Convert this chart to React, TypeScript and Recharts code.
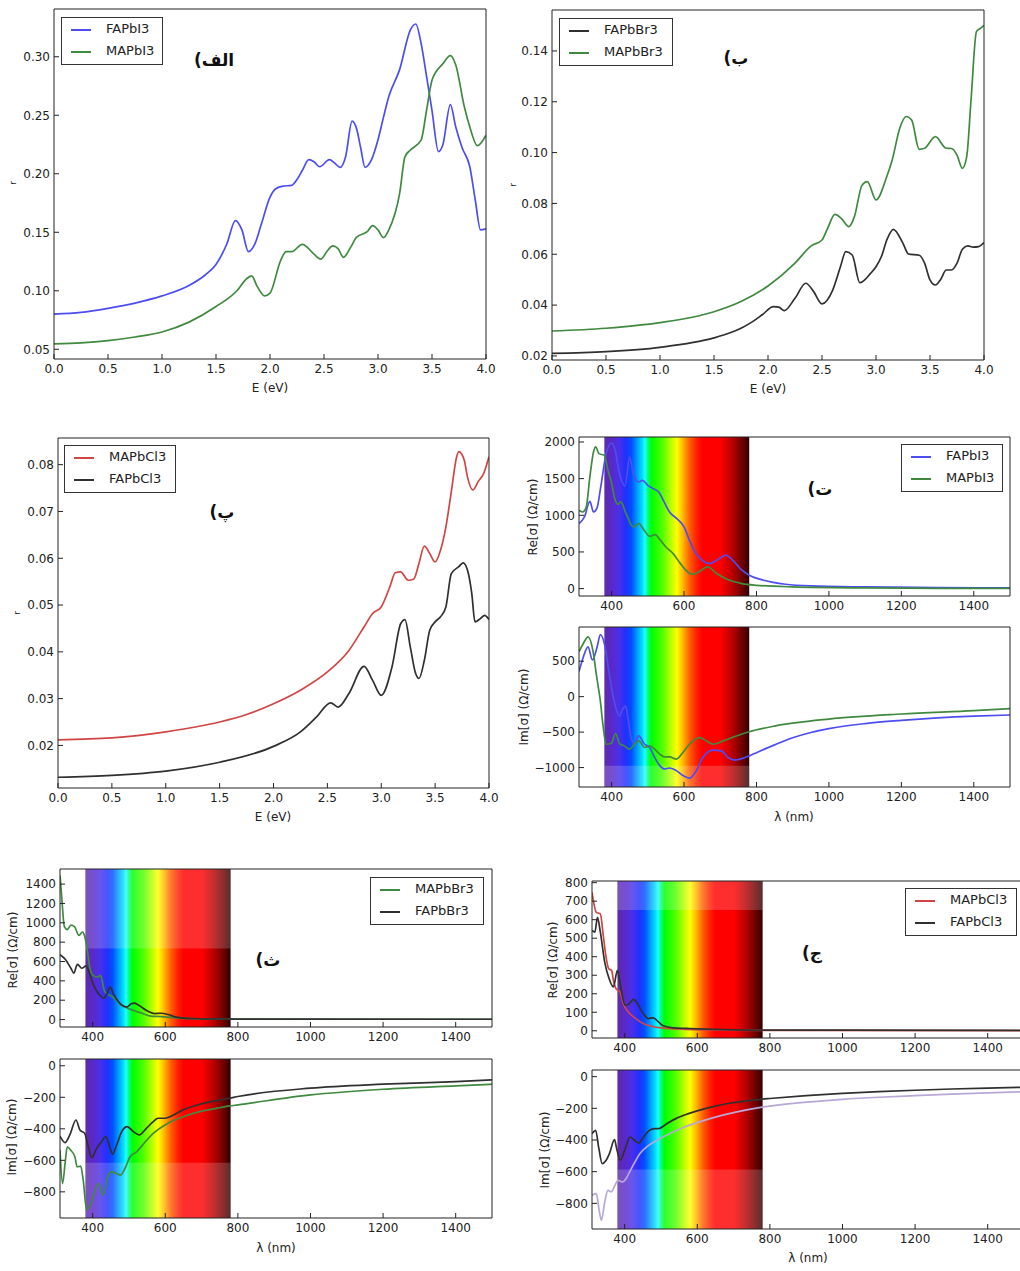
import React from 'react';
import { LineChart, Line, XAxis, YAxis, ReferenceArea } from 'recharts';

const BLUE = '#4d4df2';
const GREEN = '#3f8a3f';
const RED = '#d24545';
const BLACK = '#303030';
const LAVENDER = '#b9a7d8';
const INK = '#222';
const FONT = '"DejaVu Sans", sans-serif';

// ---- panel الف : reflectivity, iodides
const p1FaE = [0, 0.25, 0.5, 0.75, 1.0, 1.25, 1.4, 1.5, 1.6, 1.68, 1.74, 1.8, 1.86, 1.92, 2.0, 2.05, 2.12, 2.2, 2.25, 2.3, 2.36, 2.41, 2.46, 2.55, 2.6, 2.65, 2.7, 2.76, 2.8, 2.84, 2.88, 2.94, 3.0, 3.05, 3.1, 3.2, 3.3, 3.35, 3.4, 3.45, 3.5, 3.56, 3.6, 3.67, 3.72, 3.78, 3.85, 3.9, 3.95, 4.0];
const p1FaR = [0.08, 0.0815, 0.085, 0.0895, 0.0956, 0.1045, 0.1135, 0.1225, 0.14, 0.16, 0.152, 0.1334, 0.14, 0.157, 0.18, 0.187, 0.1895, 0.19, 0.195, 0.203, 0.212, 0.21, 0.206, 0.212, 0.209, 0.2055, 0.2146, 0.245, 0.239, 0.222, 0.2055, 0.212, 0.229, 0.248, 0.266, 0.289, 0.323, 0.328, 0.311, 0.283, 0.254, 0.219, 0.2246, 0.259, 0.24, 0.222, 0.206, 0.178, 0.152, 0.153];
const p1MaE = [0, 0.25, 0.5, 0.75, 1.0, 1.25, 1.5, 1.7, 1.78, 1.83, 1.88, 1.95, 2.0, 2.1, 2.15, 2.2, 2.3, 2.4, 2.47, 2.53, 2.58, 2.63, 2.68, 2.75, 2.8, 2.9, 2.95, 3.0, 3.05, 3.1, 3.2, 3.25, 3.3, 3.4, 3.45, 3.5, 3.6, 3.67, 3.72, 3.8, 3.85, 3.92, 4.0];
const p1MaR = [0.0546, 0.0555, 0.0574, 0.0605, 0.0648, 0.0732, 0.0865, 0.1007, 0.11, 0.1127, 0.104, 0.0956, 0.098, 0.1263, 0.1334, 0.1334, 0.1397, 0.132, 0.127, 0.134, 0.1383, 0.136, 0.1286, 0.1377, 0.1457, 0.1505, 0.1557, 0.152, 0.1454, 0.152, 0.183, 0.2146, 0.2203, 0.229, 0.2545, 0.28, 0.294, 0.301, 0.293, 0.257, 0.24, 0.224, 0.233];

// ---- panel ب : bromides
const p2FaE = [0, 0.5, 1.0, 1.5, 1.65, 1.75, 1.85, 1.95, 2.05, 2.1, 2.15, 2.25, 2.35, 2.42, 2.5, 2.6, 2.67, 2.72, 2.78, 2.85, 2.95, 3.0, 3.05, 3.1, 3.16, 3.25, 3.3, 3.4, 3.45, 3.5, 3.55, 3.6, 3.65, 3.7, 3.75, 3.8, 3.85, 3.9, 3.95, 4.0];
const p2FaR = [0.021, 0.0217, 0.0234, 0.0271, 0.0291, 0.0309, 0.0333, 0.0363, 0.0394, 0.0392, 0.0378, 0.0427, 0.0486, 0.0455, 0.0405, 0.046, 0.055, 0.061, 0.0597, 0.0488, 0.0525, 0.0551, 0.0591, 0.0656, 0.0698, 0.0643, 0.0601, 0.0596, 0.0565, 0.0499, 0.0479, 0.0502, 0.0538, 0.0538, 0.0565, 0.062, 0.0633, 0.0628, 0.063, 0.0646];
const p2MaE = [0, 0.5, 1.0, 1.5, 1.75, 2.0, 2.25, 2.4, 2.5, 2.55, 2.62, 2.68, 2.75, 2.8, 2.87, 2.92, 3.0, 3.1, 3.15, 3.22, 3.28, 3.33, 3.4, 3.45, 3.55, 3.65, 3.7, 3.75, 3.8, 3.84, 3.88, 3.93, 3.97, 4.0];
const p2MaR = [0.0298, 0.0309, 0.0331, 0.0374, 0.0414, 0.0475, 0.0565, 0.0633, 0.0656, 0.07, 0.0757, 0.074, 0.0709, 0.0748, 0.0871, 0.0886, 0.0814, 0.0906, 0.0971, 0.1096, 0.1142, 0.1128, 0.1013, 0.1017, 0.1063, 0.1017, 0.1016, 0.099, 0.0938, 0.0984, 0.1207, 0.1476, 0.149, 0.15];

// ---- panel پ : chlorides
const p3MaE = [0, 0.5, 1.0, 1.5, 1.75, 2.0, 2.25, 2.5, 2.7, 2.85, 2.92, 3.0, 3.08, 3.13, 3.18, 3.25, 3.3, 3.35, 3.4, 3.45, 3.5, 3.55, 3.6, 3.65, 3.7, 3.72, 3.77, 3.8, 3.85, 3.9, 3.95, 4.0];
const p3MaR = [0.0212, 0.0216, 0.0229, 0.025, 0.0266, 0.0289, 0.0318, 0.0357, 0.0403, 0.0457, 0.0482, 0.0496, 0.0539, 0.0569, 0.0571, 0.0553, 0.0555, 0.0589, 0.0626, 0.061, 0.0592, 0.0617, 0.0667, 0.0742, 0.0817, 0.0828, 0.081, 0.0774, 0.0746, 0.0764, 0.0781, 0.0817];
const p3FaE = [0, 0.5, 1.0, 1.5, 2.0, 2.25, 2.4, 2.53, 2.6, 2.7, 2.84, 2.92, 3.0, 3.1, 3.18, 3.22, 3.27, 3.32, 3.35, 3.4, 3.45, 3.5, 3.55, 3.6, 3.65, 3.72, 3.76, 3.8, 3.84, 3.87, 3.92, 3.96, 4.0];
const p3FaR = [0.0132, 0.0136, 0.0145, 0.0164, 0.0198, 0.0229, 0.0261, 0.0291, 0.0282, 0.0311, 0.0369, 0.0339, 0.0307, 0.0368, 0.046, 0.0469, 0.041, 0.0353, 0.0343, 0.0382, 0.0446, 0.0464, 0.0475, 0.0496, 0.0567, 0.0582, 0.059, 0.0575, 0.0525, 0.0464, 0.0471, 0.0478, 0.0469];

// ---- panel ت : conductivity, iodides
const p4ReFaL = [310, 325, 340, 350, 360, 370, 385, 400, 410, 420, 437, 450, 460, 475, 485, 500, 515, 530, 545, 560, 580, 600, 615, 630, 650, 670, 690, 715, 735, 755, 780, 820, 880, 950, 1100, 1300, 1500];
const p4ReFaV = [886, 977, 1190, 1045, 1105, 1386, 1841, 1986, 1886, 1614, 1400, 1795, 1568, 1455, 1477, 1409, 1364, 1318, 1182, 1045, 955, 841, 659, 500, 386, 341, 386, 455, 386, 273, 182, 114, 59, 36, 23, 14, 9];
const p4ReMaL = [310, 320, 330, 340, 350, 356, 365, 380, 390, 400, 410, 418, 425, 440, 460, 475, 490, 505, 520, 535, 550, 570, 590, 610, 625, 640, 665, 690, 720, 760, 800, 900, 1100, 1300, 1500];
const p4ReMaV = [1068, 1045, 1114, 1523, 1864, 1932, 1841, 1818, 1614, 1440, 1205, 1150, 1182, 1023, 841, 886, 795, 714, 736, 659, 568, 477, 341, 227, 195, 227, 295, 205, 123, 68, 45, 23, 9, 4, 2];
const p4ImFaL = [310, 322, 335, 347, 360, 369, 381, 394, 408, 422, 430, 439, 445, 454, 463, 475, 491, 505, 519, 533, 546, 560, 579, 597, 615, 634, 652, 680, 703, 721, 739, 762, 780, 800, 850, 900, 950, 1000, 1100, 1200, 1300, 1400, 1500];
const p4ImFaV = [354, 560, 703, 517, 700, 876, 727, 307, -88, -275, -182, -135, -298, -578, -671, -554, -671, -717, -857, -973, -1020, -1006, -1043, -1113, -1150, -1043, -857, -754, -764, -857, -894, -870, -835, -790, -680, -580, -505, -450, -380, -335, -300, -275, -259];
const p4ImMaL = [310, 322, 335, 349, 358, 369, 376, 385, 399, 411, 422, 435, 449, 463, 476, 491, 505, 519, 533, 546, 560, 579, 597, 615, 643, 662, 680, 708, 744, 780, 850, 1000, 1200, 1400, 1500];
const p4ImMaV = [633, 750, 843, 633, 307, -65, -391, -671, -661, -522, -661, -694, -741, -671, -624, -717, -694, -741, -810, -848, -848, -880, -787, -671, -578, -624, -671, -624, -554, -495, -415, -316, -245, -198, -170];

// ---- panel ث : conductivity, bromides
const p5ReMaL = [310, 315, 322, 330, 340, 350, 362, 372, 378, 385, 392, 400, 412, 422, 432, 442, 452, 465, 478, 492, 505, 520, 540, 560, 590, 620, 670, 800, 1000, 1500];
const p5ReMaV = [1490, 1250, 960, 930, 975, 960, 870, 905, 860, 720, 540, 460, 440, 455, 300, 260, 240, 200, 150, 125, 105, 85, 60, 35, 30, 20, 10, 5, 3, 3];
const p5ReFaL = [310, 325, 340, 348, 358, 370, 382, 392, 400, 410, 420, 430, 440, 448, 458, 470, 485, 495, 505, 515, 530, 550, 570, 590, 605, 630, 660, 700, 800, 1000, 1500];
const p5ReFaV = [670, 620, 530, 480, 570, 530, 555, 470, 380, 300, 250, 220, 270, 335, 260, 190, 140, 130, 160, 170, 140, 90, 62, 65, 55, 25, 12, 8, 5, 4, 3];
const p5ImFaL = [310, 324, 337, 354, 365, 378, 388, 397, 411, 424, 436, 447, 455, 466, 480, 495, 512, 528, 548, 567, 580, 599, 613, 649, 695, 741, 777, 800, 1000, 1200, 1400, 1500];
const p5ImFaV = [-446, -488, -439, -344, -408, -429, -514, -582, -524, -482, -450, -514, -561, -503, -418, -386, -418, -439, -397, -355, -333, -333, -323, -280, -244, -221, -206, -195, -142, -117, -100, -89];
const p5ImMaL = [310, 317, 324, 330, 339, 351, 357, 367, 374, 383, 397, 406, 417, 429, 443, 452, 466, 477, 489, 503, 521, 545, 567, 604, 649, 695, 741, 777, 800, 1000, 1200, 1400, 1500];
const p5ImMaV = [-535, -747, -620, -514, -535, -577, -641, -637, -726, -912, -864, -790, -747, -822, -694, -673, -684, -694, -652, -577, -546, -482, -429, -369, -323, -291, -270, -255, -248, -185, -149, -127, -117];

// ---- panel ج : conductivity, chlorides
const p6ReMaL = [310, 322, 333, 341, 348, 356, 364, 369, 376, 387, 396, 410, 428, 451, 479, 516, 571, 650, 800, 1500];
const p6ReMaV = [748, 640, 631, 515, 407, 335, 326, 273, 228, 210, 147, 102, 70, 39, 22, 13, 8, 4, 2, 1];
const p6ReFaL = [310, 318, 325, 333, 345, 357, 369, 380, 389, 401, 413, 424, 435, 451, 465, 479, 493, 506, 534, 571, 644, 781, 1000, 1500];
const p6ReFaV = [542, 533, 613, 533, 371, 282, 237, 326, 237, 138, 147, 170, 147, 93, 66, 70, 48, 27, 16, 13, 8, 4, 3, 2];
const p6ImFaL = [310, 320, 329, 338, 349, 358, 372, 378, 388, 400, 415, 427, 439, 452, 468, 482, 494, 514, 541, 578, 624, 688, 775, 800, 900, 1000, 1100, 1200, 1300, 1400, 1500];
const p6ImFaV = [-360, -339, -455, -549, -528, -486, -398, -455, -528, -465, -381, -402, -419, -381, -339, -328, -328, -300, -265, -232, -200, -168, -143, -138, -120, -106, -95, -86, -78, -72, -67];
const p6ImMaL = [310, 322, 329, 336, 345, 354, 363, 371, 382, 394, 405, 414, 428, 442, 460, 483, 515, 550, 596, 642, 706, 775, 800, 900, 1000, 1100, 1200, 1300, 1400, 1500];
const p6ImMaV = [-749, -739, -834, -907, -792, -718, -728, -697, -655, -665, -640, -600, -540, -485, -445, -410, -370, -332, -292, -260, -224, -194, -186, -161, -143, -130, -120, -110, -102, -95];

// ticks
const eTicks = [0, 0.5, 1.0, 1.5, 2.0, 2.5, 3.0, 3.5, 4.0];
const lamTicks = [400, 600, 800, 1000, 1200, 1400];

// visible band colours, 380 -> 780 nm
const SPECTRUM: [number, string][] = [
  [0, '#5c2ca8'], [0.05, '#5a28c8'], [0.1, '#4a30e8'], [0.15, '#2030ff'], [0.1875, '#0050ff'],
  [0.225, '#0098ff'], [0.2625, '#00e0ff'], [0.28, '#20ffff'], [0.3, '#00ff80'], [0.325, '#00ff00'],
  [0.4, '#50ff00'], [0.45, '#a8ff00'], [0.5, '#ffff00'], [0.5375, '#ffc000'], [0.5875, '#ff6000'],
  [0.6375, '#ff2000'], [0.675, '#ff0000'], [0.8, '#ff0000'], [0.875, '#c00000'], [0.95, '#700000'], [1, '#300000'],
];

const zip = (xs: number[], ys: number[]) => xs.map((x, i) => ({ x, y: ys[i] }));
const f1 = (v: number) => v.toFixed(1);
const f2 = (v: number) => v.toFixed(2);
const fi = (v: number) => (v < 0 ? '\u2212' + Math.abs(v) : String(v));

const YW = 60, RW = 22, TH = 6, XH = 26;

type S = { xs: number[]; ys: number[]; color: string };
type PanelProps = {
  id: string;
  box: [number, number, number, number];
  xDomain: [number, number];
  xTicks: number[];
  xFmt: (v: number) => string;
  yDomain: [number, number];
  yTicks: number[];
  yFmt: (v: number) => string;
  series: S[];
  band?: boolean;
  veil?: [number, number];
};

function Panel({ id, box, xDomain, xTicks, xFmt, yDomain, yTicks, yFmt, series, band, veil }: PanelProps) {
  const [l, t, w, h] = box;
  const tickStyle = { fontSize: 12, fill: INK, fontFamily: FONT };
  const line = { stroke: INK, strokeWidth: 1 };
  return (
    <div style={{ position: 'absolute', left: l - YW, top: t - TH }}>
      <LineChart width={w + YW + RW} height={h + TH + XH} margin={{ top: 0, right: 0, bottom: 0, left: 0 }}>
        <defs>
          <linearGradient id={'spec' + id} x1="0" y1="0" x2="1" y2="0">
            {SPECTRUM.map(([o, c]) => (
              <stop key={o} offset={o} stopColor={c} />
            ))}
          </linearGradient>
        </defs>
        <XAxis xAxisId={0} dataKey="x" type="number" domain={xDomain} ticks={xTicks} interval={0}
          allowDataOverflow tickFormatter={xFmt} tickSize={-5} tickMargin={10} height={XH}
          tick={tickStyle} axisLine={line} tickLine={line} />
        <XAxis xAxisId="top" orientation="top" dataKey="x" type="number" domain={xDomain} ticks={xTicks}
          interval={0} allowDataOverflow tick={false} tickSize={-5} height={TH} axisLine={line} tickLine={line} />
        <YAxis yAxisId={0} type="number" domain={yDomain} ticks={yTicks} interval={0} allowDataOverflow
          tickFormatter={yFmt} tickSize={-5} tickMargin={9} width={YW} tick={tickStyle} axisLine={line} tickLine={line} />
        <YAxis yAxisId="right" orientation="right" type="number" domain={yDomain} ticks={yTicks} interval={0}
          allowDataOverflow tick={false} tickSize={-5} width={RW} axisLine={line} tickLine={line} />
        {band && (
          <ReferenceArea xAxisId={0} yAxisId={0} x1={380} x2={780} y1={yDomain[0]} y2={yDomain[1]}
            fill={`url(#spec${id})`} fillOpacity={1} stroke="none" />
        )}
        {band && veil && (
          <ReferenceArea xAxisId={0} yAxisId={0} x1={380} x2={780} y1={veil[0]} y2={veil[1]}
            fill="#ffffff" fillOpacity={0.18} stroke="none" />
        )}
        {series.map((s, i) => (
          <Line key={i} xAxisId={0} yAxisId={0} data={zip(s.xs, s.ys)} dataKey="y" type="monotone"
            stroke={s.color} strokeWidth={1.7} dot={false} activeDot={false} isAnimationActive={false} />
        ))}
      </LineChart>
    </div>
  );
}

function Legend2({ x, y, w, items }: { x: number; y: number; w: number; items: [string, string][] }) {
  return (
    <div style={{ position: 'absolute', left: x, top: y, width: w, height: 48, border: '1px solid #333', boxSizing: 'border-box', background: '#fff' }}>
      {items.map(([name, color], i) => (
        <React.Fragment key={name}>
          <div style={{ position: 'absolute', left: 9, top: 11 + 22 * i, width: 20, height: 2, background: color }} />
          <div style={{ position: 'absolute', left: 44, top: 3 + 22 * i, lineHeight: '16px', fontSize: 13, color: INK, fontFamily: FONT }}>{name}</div>
        </React.Fragment>
      ))}
    </div>
  );
}

function Txt({ x, y, text, size = 12, rot = false, bold = false, rtl = false }: { x: number; y: number; text: string; size?: number; rot?: boolean; bold?: boolean; rtl?: boolean }) {
  return (
    <div dir={rtl ? 'rtl' : 'ltr'} style={{
      position: 'absolute', left: x, top: y, transform: `translate(-50%, -50%)${rot ? ' rotate(-90deg)' : ''}`,
      fontSize: size, fontWeight: bold ? 700 : 400, color: bold ? '#111' : INK, fontFamily: FONT, whiteSpace: 'nowrap', lineHeight: 1,
    }}>{text}</div>
  );
}

const LAM: [number, number] = [310, 1500];
const EDOM: [number, number] = [0, 4];

export default function App() {
  return (
    <div style={{ position: 'relative', width: 1020, height: 1271, overflow: 'hidden', background: '#fff', fontFamily: FONT }}>
      <style>{'body{margin:0}'}</style>

      <Panel id="a" box={[54, 9, 432, 350]} xDomain={EDOM} xTicks={eTicks} xFmt={f1}
        yDomain={[0.0417, 0.3408]} yTicks={[0.05, 0.1, 0.15, 0.2, 0.25, 0.3]} yFmt={f2}
        series={[{ xs: p1FaE, ys: p1FaR, color: BLUE }, { xs: p1MaE, ys: p1MaR, color: GREEN }]} />
      <Panel id="b" box={[552, 10, 432, 350]} xDomain={EDOM} xTicks={eTicks} xFmt={f1}
        yDomain={[0.0184, 0.1561]} yTicks={[0.02, 0.04, 0.06, 0.08, 0.1, 0.12, 0.14]} yFmt={f2}
        series={[{ xs: p2FaE, ys: p2FaR, color: BLACK }, { xs: p2MaE, ys: p2MaR, color: GREEN }]} />
      <Panel id="c" box={[58, 438, 431, 350]} xDomain={EDOM} xTicks={eTicks} xFmt={f1}
        yDomain={[0.0109, 0.0857]} yTicks={[0.02, 0.03, 0.04, 0.05, 0.06, 0.07, 0.08]} yFmt={f2}
        series={[{ xs: p3MaE, ys: p3MaR, color: RED }, { xs: p3FaE, ys: p3FaR, color: BLACK }]} />

      <Panel id="d1" box={[579, 437, 431, 159]} xDomain={LAM} xTicks={lamTicks} xFmt={fi}
        yDomain={[-101, 2068]} yTicks={[0, 500, 1000, 1500, 2000]} yFmt={fi} band
        series={[{ xs: p4ReFaL, ys: p4ReFaV, color: BLUE }, { xs: p4ReMaL, ys: p4ReMaV, color: GREEN }]} />
      <Panel id="d2" box={[579, 627, 431, 160]} xDomain={LAM} xTicks={lamTicks} xFmt={fi}
        yDomain={[-1274, 982]} yTicks={[-1000, -500, 0, 500]} yFmt={fi} band veil={[-1274, -975]}
        series={[{ xs: p4ImFaL, ys: p4ImFaV, color: BLUE }, { xs: p4ImMaL, ys: p4ImMaV, color: GREEN }]} />

      <Panel id="e1" box={[60, 869, 432, 158]} xDomain={LAM} xTicks={lamTicks} xFmt={fi}
        yDomain={[-77, 1556]} yTicks={[0, 200, 400, 600, 800, 1000, 1200, 1400]} yFmt={fi} band veil={[735, 1556]}
        series={[{ xs: p5ReMaL, ys: p5ReMaV, color: GREEN }, { xs: p5ReFaL, ys: p5ReFaV, color: BLACK }]} />
      <Panel id="e2" box={[60, 1059, 432, 159]} xDomain={LAM} xTicks={lamTicks} xFmt={fi}
        yDomain={[-966, 43]} yTicks={[-800, -600, -400, -200, 0]} yFmt={fi} band veil={[-966, -616]}
        series={[{ xs: p5ImFaL, ys: p5ImFaV, color: BLACK }, { xs: p5ImMaL, ys: p5ImMaV, color: GREEN }]} />

      <Panel id="f1" box={[592, 881, 432, 157]} xDomain={LAM} xTicks={lamTicks} xFmt={fi}
        yDomain={[-39, 809]} yTicks={[0, 100, 200, 300, 400, 500, 600, 700, 800]} yFmt={fi} band veil={[653, 809]}
        series={[{ xs: p6ReMaL, ys: p6ReMaV, color: RED }, { xs: p6ReFaL, ys: p6ReFaV, color: BLACK }]} />
      <Panel id="f2" box={[592, 1070, 432, 159]} xDomain={LAM} xTicks={lamTicks} xFmt={fi}
        yDomain={[-962, 42]} yTicks={[-800, -600, -400, -200, 0]} yFmt={fi} band veil={[-962, -587]}
        series={[{ xs: p6ImMaL, ys: p6ImMaV, color: LAVENDER }, { xs: p6ImFaL, ys: p6ImFaV, color: BLACK }]} />

      <Legend2 x={61} y={17} w={102} items={[['FAPbI3', BLUE], ['MAPbI3', GREEN]]} />
      <Legend2 x={559} y={18} w={114} items={[['FAPbBr3', BLACK], ['MAPbBr3', GREEN]]} />
      <Legend2 x={64} y={445} w={112} items={[['MAPbCl3', RED], ['FAPbCl3', BLACK]]} />
      <Legend2 x={901} y={444} w={102} items={[['FAPbI3', BLUE], ['MAPbI3', GREEN]]} />
      <Legend2 x={370} y={877} w={114} items={[['MAPbBr3', GREEN], ['FAPbBr3', BLACK]]} />
      <Legend2 x={905} y={888} w={112} items={[['MAPbCl3', RED], ['FAPbCl3', BLACK]]} />

      <Txt x={214} y={60} text="الف)" size={17} bold rtl />
      <Txt x={736} y={58} text="ب)" size={17} bold rtl />
      <Txt x={222} y={512} text="پ)" size={17} bold rtl />
      <Txt x={820} y={489} text="ت)" size={17} bold rtl />
      <Txt x={268} y={960} text="ث)" size={17} bold rtl />
      <Txt x={812} y={953} text="ج)" size={17} bold rtl />

      <Txt x={13} y={183} text="r" size={9} rot />
      <Txt x={513} y={185} text="r" size={9} rot />
      <Txt x={17} y={613} text="r" size={9} rot />
      <Txt x={270} y={388} text="E (eV)" />
      <Txt x={768} y={389} text="E (eV)" />
      <Txt x={273} y={817} text="E (eV)" />

      <Txt x={533} y={517} text="Re[σ] (Ω/cm)" rot />
      <Txt x={524} y={707} text="Im[σ] (Ω/cm)" rot />
      <Txt x={794} y={817} text="λ (nm)" />
      <Txt x={13} y={950} text="Re[σ] (Ω/cm)" rot />
      <Txt x={12} y={1137} text="Im[σ] (Ω/cm)" rot />
      <Txt x={276} y={1248} text="λ (nm)" />
      <Txt x={553} y={960} text="Re[σ] (Ω/cm)" rot />
      <Txt x={545} y={1150} text="Im[σ] (Ω/cm)" rot />
      <Txt x={808} y={1258} text="λ (nm)" />
    </div>
  );
}
